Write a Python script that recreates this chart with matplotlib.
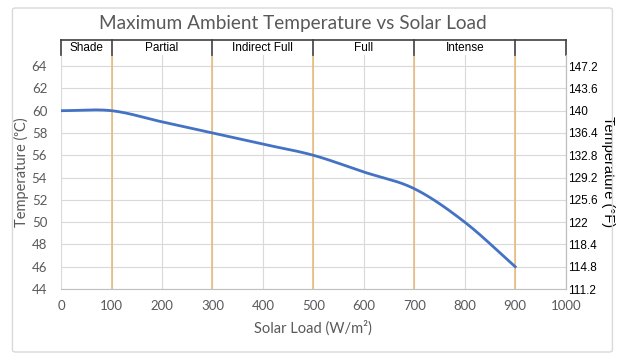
import numpy as np
import matplotlib
matplotlib.use('Agg')
from matplotlib import pyplot as plt
from matplotlib.patches import FancyBboxPatch

solar_load = [0, 100, 200, 300, 400, 500, 600, 700, 800, 900]
temp_c = [60, 60, 59, 58, 57, 56, 54.5, 53, 50, 46]

zone_names = ['Shade', 'Partial', 'Indirect Full', 'Full', 'Intense', '']
zone_edges = [0, 100, 300, 500, 700, 900, 1000]

left_ticks = [44, 46, 48, 50, 52, 54, 56, 58, 60, 62, 64]
right_labels = ['111.2', '114.8', '118.4', '122', '125.6', '129.2', '132.8',
                '136.4', '140', '143.6', '147.2']

BLUE = '#4472C4'
ORANGE = '#E9B873'
GRID = '#D9D9D9'
GREY_TXT = '#595959'


def smooth(x, y, n=30):
    # catmull-rom curve through the points, like Excel's smoothed line
    x = np.asarray(x, float)
    y = np.asarray(y, float)
    px = np.concatenate([[2 * x[0] - x[1]], x, [2 * x[-1] - x[-2]]])
    py = np.concatenate([[2 * y[0] - y[1]], y, [2 * y[-1] - y[-2]]])
    xs, ys = [], []
    t = np.linspace(0, 1, n)
    for i in range(1, len(px) - 2):
        for p, out in ((px, xs), (py, ys)):
            p0, p1, p2, p3 = p[i - 1], p[i], p[i + 1], p[i + 2]
            out.extend(0.5 * (2 * p1 + (-p0 + p2) * t
                              + (2 * p0 - 5 * p1 + 4 * p2 - p3) * t ** 2
                              + (-p0 + 3 * p1 - 3 * p2 + p3) * t ** 3))
    return xs, ys


fig = plt.figure(figsize=(6.23, 3.64), dpi=100)
fig.patches.append(FancyBboxPatch((0.02, 0.033), 0.963, 0.945,
                                  boxstyle='round,pad=0,rounding_size=0.005',
                                  transform=fig.transFigure, fill=False,
                                  edgecolor='#D9D9D9', linewidth=1))

ax = fig.add_axes([0.098, 0.206, 0.810, 0.643])
ax.set_xlim(0, 1000)
ax.set_ylim(44, 65)
ax.set_xticks(range(0, 1001, 100))
ax.set_yticks(left_ticks)
ax.grid(True, color=GRID, linewidth=0.8)
ax.set_axisbelow(True)
for s in ['top', 'left']:
    ax.spines[s].set_visible(False)
ax.spines['bottom'].set_color('#BFBFBF')
ax.spines['right'].set_color('#BFBFBF')
ax.tick_params(length=0, labelsize=9.5, labelcolor=GREY_TXT, pad=8)
ax.tick_params(axis='y', pad=10)
for lab in ax.get_xticklabels() + ax.get_yticklabels():
    lab.set_family('Lato')

for e in zone_edges[1:-1]:
    ax.axvline(e, color=ORANGE, linewidth=1.1, zorder=2)

xs, ys = smooth(solar_load, temp_c)
ax.plot(xs, ys, color=BLUE, linewidth=2, zorder=3)

ax.set_xlabel('Solar Load (W/m²)', fontsize=10.5, color=GREY_TXT, labelpad=6,
              family='Lato')
ax.set_ylabel('Temperature (ᵒC)', fontsize=10.5, color=GREY_TXT, labelpad=2,
              family=['Lato', 'DejaVu Sans'])

ax2 = ax.twinx()
ax2.set_ylim(ax.get_ylim())
ax2.set_yticks(left_ticks)
ax2.set_yticklabels(right_labels)
ax2.tick_params(length=0, labelsize=8.5, labelcolor='black', pad=2)
for lab in ax2.get_yticklabels():
    lab.set_family('Liberation Sans')
for s in ['top', 'left', 'bottom']:
    ax2.spines[s].set_visible(False)
ax2.spines['right'].set_color('#BFBFBF')
ax2.set_ylabel('Temperature (°F)', fontsize=10.5, rotation=-90, labelpad=12,
               fontfamily=['Liberation Sans', 'DejaVu Sans'])

# zone header above the plot
top = 1.064
for e in zone_edges:
    ax.plot([e, e], [1.0, top], transform=ax.get_xaxis_transform(),
            color='#404040', linewidth=1.2, clip_on=False)
ax.plot([0, 1000], [top, top], transform=ax.get_xaxis_transform(),
        color='#404040', linewidth=1.2, clip_on=False)
for name, a, b in zip(zone_names, zone_edges[:-1], zone_edges[1:]):
    ax.text((a + b) / 2, 1.03, name, transform=ax.get_xaxis_transform(),
            ha='center', va='center', fontsize=8.5, family='Liberation Sans')

fig.text(0.47, 0.935, 'Maximum Ambient Temperature vs Solar Load',
         ha='center', va='center', fontsize=13.7, color=GREY_TXT, family='Lato')

fig.savefig('out.png', dpi=100)
